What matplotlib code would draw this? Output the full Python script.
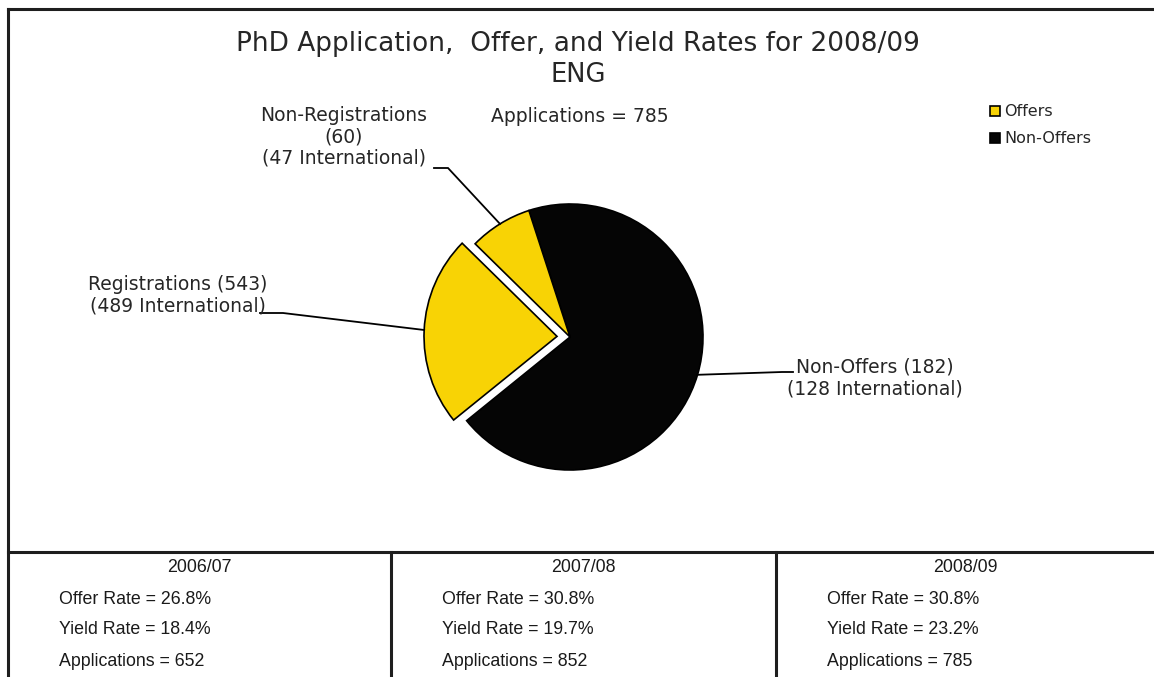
import matplotlib.pyplot as plt
import numpy as np
from matplotlib.lines import Line2D

# canvas in pixels, y measured downward from the top edge
W, H = 1154, 677

title_lines = ["PhD Application,  Offer, and Yield Rates for 2008/09", "ENG"]
total_apps = 785

# pie slices, clockwise starting just left of 12 o'clock
slice_names = ["Non-Offers", "Registrations", "Non-Registrations"]
slice_counts = [543, 182, 60]
slice_labels = ["Non-Offers (182)\n(128 International)",
                "Registrations (543)\n(489 International)",
                "Non-Registrations\n(60)\n(47 International)"]

legend_names = ["Offers", "Non-Offers"]

years = ["2006/07", "2007/08", "2008/09"]
offer_rates = [26.8, 30.8, 30.8]
yield_rates = [18.4, 19.7, 23.2]
applications = [652, 852, 785]

yellow = "#F8D305"
black = "#050505"
ink = "#262626"


def Y(py):
    return H - py


fig = plt.figure(figsize=(W / 100, H / 100), dpi=100)
ax = fig.add_axes([0, 0, 1, 1])

cx, cy, rad = 570, 337, 133
wedges, _ = ax.pie(slice_counts, colors=[black, yellow, yellow],
                   explode=[0, 13, 0], startangle=108, counterclock=False,
                   center=(cx, Y(cy)), radius=rad, frame=True,
                   wedgeprops=dict(edgecolor="black", linewidth=1.2))
ax.set_xlim(0, W)
ax.set_ylim(0, H)
ax.set_aspect("auto")
ax.axis("off")

# data labels with leader lines: (text centre, elbow, end of horizontal)
label_pos = {
    "Non-Offers": ((875, 378), (782, 372), (793, 372)),
    "Registrations": ((178, 295), (283, 313), (260, 313)),
    "Non-Registrations": ((344, 137), (448, 168), (434, 168)),
}
for w, name, lab in zip(wedges, slice_names, slice_labels):
    mid = np.deg2rad((w.theta1 + w.theta2) / 2)
    ex = w.center[0] + w.r * np.cos(mid)
    ey = w.center[1] + w.r * np.sin(mid)
    (tx, ty), (bx, by), (hx, hy) = label_pos[name]
    ax.plot([ex, bx, hx], [ey, Y(by), Y(hy)], color="black", lw=1.3,
            solid_joinstyle="miter", zorder=1)
    ax.text(tx, Y(ty), lab, ha="center", va="center", fontsize=13.5,
            color=ink, linespacing=1.15, family="DejaVu Sans")

ax.text(578, Y(44), title_lines[0], ha="center", va="center",
        fontsize=19, color=ink)
ax.text(578, Y(75), title_lines[1], ha="center", va="center",
        fontsize=18.5, color=ink)
ax.text(580, Y(116), "Applications = %d" % total_apps, ha="center",
        va="center", fontsize=13.5, color=ink)

handles = [Line2D([], [], ls="none", marker="s", markersize=7.5,
                  markerfacecolor=c, markeredgecolor="black",
                  markeredgewidth=1.2) for c in [yellow, black]]
ax.legend(handles, legend_names, loc="upper left",
          bbox_to_anchor=(981 / W, Y(98) / H), frameon=False,
          fontsize=11.5, handletextpad=0.05, handlelength=1.0,
          labelspacing=0.75, labelcolor=ink, borderaxespad=0)

# frame and table rules
lc = "#1e1e1e"
ax.plot([8, W], [Y(9), Y(9)], color=lc, lw=2.2)
ax.plot([8, 8], [Y(9), 0], color=lc, lw=2.2)
ax.plot([8, W], [Y(552), Y(552)], color=lc, lw=2.2)
for x in [391, 776]:
    ax.plot([x, x], [Y(552), 0], color=lc, lw=2.2)

# yearly summary table
col_left = [8, 391, 776]
col_right = [391, 776, W]
for i, yr in enumerate(years):
    mid_x = (col_left[i] + col_right[i]) / 2
    lx = col_left[i] + 51
    tkw = dict(fontsize=12.8, color="#1a1a1a", family="Liberation Sans",
               va="center")
    ax.text(mid_x, Y(568), yr, ha="center", **tkw)
    ax.text(lx, Y(599), "Offer Rate = %.1f%%" % offer_rates[i], ha="left", **tkw)
    ax.text(lx, Y(630), "Yield Rate = %.1f%%" % yield_rates[i], ha="left", **tkw)
    ax.text(lx, Y(661), "Applications = %d" % applications[i], ha="left", **tkw)

fig.savefig("out.png", dpi=100)
